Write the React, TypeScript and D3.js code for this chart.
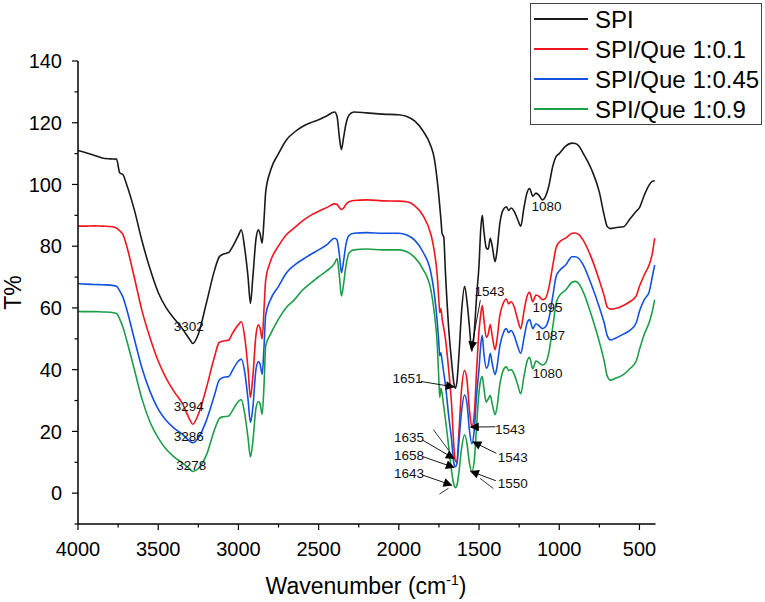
import * as d3 from "d3";

// wavenumber grid (cm-1) shared by all four spectra
const wavenumbers = [
  4000, 3950, 3900, 3850, 3800, 3760, 3740, 3720, 3700, 3650,
  3600, 3550, 3500, 3450, 3400, 3350, 3300, 3285, 3250, 3200,
  3150, 3120, 3100, 3060, 3040, 3000, 2982, 2960, 2940, 2925,
  2910, 2890, 2875, 2865, 2852, 2840, 2830, 2800, 2750, 2700,
  2650, 2600, 2550, 2500, 2450, 2400, 2385, 2370, 2358, 2345,
  2330, 2310, 2280, 2200, 2100, 2000, 1950, 1900, 1850, 1800,
  1780, 1760, 1750, 1745, 1738, 1730, 1720, 1710, 1690, 1670,
  1658, 1648, 1638, 1625, 1610, 1590, 1575, 1560, 1545, 1530,
  1515, 1500, 1490, 1480, 1470, 1455, 1443, 1430, 1418, 1400,
  1390, 1370, 1350, 1330, 1315, 1300, 1280, 1260, 1240, 1220,
  1200, 1185, 1165, 1145, 1125, 1105, 1087, 1065, 1040, 1020,
  1000, 960, 920, 900, 880, 850, 800, 750, 720, 700,
  680, 650, 600, 560, 520, 500, 470, 440, 420, 405,
];

const spi = [
  111, 110.3, 109.5, 108.6, 108.3, 108.2, 103.8, 103.2, 100.5, 92,
  81.5, 72.5, 65, 60, 56.5, 53.3, 49.5, 48.5, 51.5, 61.5,
  72, 76.5, 77.3, 78, 79.5, 83.5, 85.3, 79, 70, 61.5,
  70, 82.5, 85.3, 84, 81, 89, 97.5, 104.5, 110, 114.5,
  117, 118.8, 120, 121, 122.2, 123.5, 122, 115, 111.3, 115,
  119.5, 122.5, 123.5, 123.2, 122.8, 122.6, 122, 120.5, 117.4, 112.4,
  108.7, 101, 96, 93, 89, 84, 83, 72, 54, 42,
  36, 34, 36, 45, 58, 67, 62, 54, 46, 52,
  64, 74, 85, 90, 85, 79.5, 79, 82.6, 80, 75,
  77.6, 87.5, 91.8, 92.8, 91.6, 92.4, 91.2, 88.8, 86.5, 92.5,
  97.5, 98.7, 96.2, 97.2, 96.4, 95, 96, 99.5, 106, 109,
  110, 112.4, 113.4, 113.3, 112.6, 110, 105, 97.5, 90, 86.3,
  85.7, 86, 86.3, 88.8, 91.3, 92.5, 96.5, 99.8, 101, 101.2,
];

const que01 = [
  86.5, 86.5, 86.6, 86.5, 86.4, 85.9, 85, 83.8, 80.7, 70.1,
  58.9, 50.2, 42.8, 37.2, 32.8, 29.1, 23.5, 22.3, 25.5, 34,
  44, 48.8, 49.2, 49.6, 51.5, 54.6, 55.5, 50.2, 40.3, 31,
  37.8, 51.5, 54.5, 53.5, 50, 60, 69, 75.1, 80.1, 83.8,
  86, 88.2, 90, 91.3, 92.5, 93.7, 93.5, 92.5, 91.9, 92.3,
  93.5, 94.4, 94.8, 95, 94.7, 94.6, 94.4, 93.1, 90, 83.8,
  78.8, 70.1, 62, 58.5, 59.8, 56.4, 53.5, 50.2, 40.3, 27.8,
  16, 10.5, 10, 20, 33, 39.7, 36.5, 27, 21.6, 25.4,
  40, 52.7, 57.7, 60.8, 56.4, 50.5, 51.5, 54.6, 51, 46.5,
  49, 57.7, 61.4, 62.9, 61.3, 62, 60.2, 56.4, 53.3, 58.9,
  63.9, 65.1, 62, 64.2, 63.7, 62.7, 63, 66.5, 73.9, 79.4,
  81.3, 82.6, 84.2, 84.3, 83.8, 81.9, 76.3, 68.9, 63.9, 60.2,
  59.6, 59.8, 60.8, 62, 63.9, 67, 70.7, 73.9, 77.6, 82.6,
];

const que045 = [
  67.9, 67.7, 67.6, 67.5, 67.4, 67, 65.5, 63.5, 60.2, 50.2,
  40.3, 32.8, 27.2, 23.5, 21, 19.1, 16.7, 16.3, 17.9, 23.5,
  31.6, 36.6, 37.4, 37.8, 39.5, 42.8, 43.4, 39, 30.3, 22.9,
  27.8, 40.3, 42.6, 41.8, 38.5, 47.7, 57.7, 62.7, 67, 71.4,
  73.9, 75.7, 77.3, 78.8, 80.4, 82.6, 82, 77, 71.4, 75,
  80.5, 83.5, 84.2, 84.4, 84.2, 84.2, 83.6, 81.9, 78.2, 71.4,
  65.1, 55.2, 48, 44.5, 45.5, 42.8, 39, 35.3, 25.4, 16.7,
  10, 8.6, 9.5, 17, 26, 31.8, 29, 20.4, 16, 20.4,
  32, 40.3, 47.7, 51.1, 45.3, 40.5, 41.5, 45.3, 42, 38.4,
  40.3, 47.7, 51.7, 53.3, 52, 52.7, 50.9, 47.7, 45.3, 50.2,
  55.2, 56.2, 53.3, 54.9, 54.2, 53.3, 53.8, 56.5, 63.9, 70.1,
  72, 73.9, 76.6, 76.6, 76.1, 73.9, 67.6, 60.2, 55.2, 50.9,
  49.6, 50.2, 51.5, 52.7, 55.2, 58.9, 62.7, 65.1, 70.1, 73.9,
];

const que09 = [
  58.9, 58.8, 58.8, 58.7, 58.6, 58.2, 56.4, 53.8, 50.2, 40.3,
  30.3, 22.9, 17.9, 14.2, 11.7, 9.8, 7.7, 7, 8, 12.3,
  20.4, 24.1, 24.7, 25, 26.5, 29.7, 30.3, 25.4, 17.9, 11.7,
  16.7, 27.8, 29.7, 29, 25.5, 35.3, 47.7, 51.5, 56.4, 60.2,
  62.7, 65.8, 68, 70.1, 72, 74.5, 76, 70, 63.9, 67.5,
  73.5, 77.8, 78.8, 79.1, 78.8, 78.8, 78.2, 76.3, 72.6, 65.8,
  58.9, 47.7, 36, 31, 34, 32.2, 28, 24.1, 15.4, 6.7,
  3, 1.8, 2.5, 7, 14, 18.9, 16, 9.8, 7, 10.4,
  22, 32.8, 36.6, 37.8, 34.1, 29.5, 30.5, 31.6, 29, 25.4,
  27.2, 35.3, 39.7, 40.9, 39.7, 40, 38.4, 35.3, 32.2, 37.8,
  42.8, 44, 40.3, 42.8, 42.2, 41.5, 42, 45.5, 54, 61.4,
  63.9, 65.8, 68.3, 68.6, 68, 65.1, 57.7, 49, 42.8, 37.8,
  36.6, 37.2, 38.4, 40.3, 42.8, 46.5, 51.5, 55.2, 58.9, 62.7,
];

const seriesNames = ["SPI", "SPI/Que 1:0.1", "SPI/Que 1:0.45", "SPI/Que 1:0.9"];
const seriesValues = [spi, que01, que045, que09];
const seriesColors = ["#1a1a1a", "#f0141e", "#1451e0", "#1c9e48"];

const xTicks = [4000, 3500, 3000, 2500, 2000, 1500, 1000, 500];
const yTicks = [0, 20, 40, 60, 80, 100, 120, 140];

// peak labels: [text, wavenumber, T%]
const peakLabels: [string, number, number][] = [
  ["3302", 3309, 54.2],
  ["3294", 3309, 28.1],
  ["3286", 3309, 18.5],
  ["3278", 3294, 9.2],
  ["1080", 1079, 92.9],
  ["1095", 1073, 60.4],
  ["1087", 1057, 51.1],
  ["1080", 1073, 38.8],
  ["1543", 1435, 65.4],
  ["1651", 1946, 37.4],
  ["1543", 1307, 20.7],
  ["1543", 1290, 11.5],
  ["1550", 1290, 3.3],
  ["1635", 1936, 18],
  ["1658", 1936, 12.3],
  ["1643", 1936, 6.4],
];

// arrows: [fromWn, fromT, toWn, toT]
const arrows: [number, number, number, number][] = [
  [1492, 62.5, 1548, 46.5],
  [1864, 36.2, 1656, 34.4],
  [1398, 21.5, 1552, 21.4],
  [1392, 12.9, 1537, 16.6],
  [1395, 4.0, 1552, 7.1],
  [1849, 17.1, 1656, 11.2],
  [1849, 11.8, 1656, 8.3],
  [1849, 5.8, 1671, 2.6],
];

// plain leader lines without heads
const leaders: [number, number, number, number][] = [
  [1785, 20.6, 1690, 13.9],
  [1494, 4.8, 1411, 1.5],
  [1747, -0.3, 1690, 1.6],
];

const W = 765;
const H = 602;
const font = "'Liberation Sans', Arial, sans-serif";

export default function App() {
  const x = d3.scaleLinear().domain([4000, 400]).range([78, 655.5]);
  const y = d3.scaleLinear().domain([-10, 140]).range([524, 61]);

  const line = d3
    .line<number>()
    .x((_, i) => x(wavenumbers[i]))
    .y((d) => y(d))
    .curve(d3.curveMonotoneX);

  const xMinor = d3.range(4000, 399, -250);
  const yMinor = d3.range(-10, 141, 10);

  return (
    <svg
      width={W}
      height={H}
      style={{ position: "fixed", left: 0, top: 0, background: "#fff" }}
      fontFamily={font}
    >
      <defs>
        <marker
          id="head"
          viewBox="0 0 10 10"
          refX="9"
          refY="5"
          markerWidth="11"
          markerHeight="9"
          markerUnits="userSpaceOnUse"
          orient="auto"
        >
          <path d="M0,0 L10,5 L0,10 z" fill="#000" />
        </marker>
      </defs>

      {/* spectra */}
      {seriesValues.map((vals, i) => (
        <path
          key={seriesNames[i]}
          d={line(vals) ?? ""}
          fill="none"
          stroke={seriesColors[i]}
          strokeWidth={1.6}
          strokeLinejoin="round"
        />
      ))}

      {/* y axis */}
      <line x1={x(4000)} x2={x(4000)} y1={y(-10)} y2={y(140)} stroke="#000" strokeWidth={1.5} />
      {yMinor.map((v) => (
        <line
          key={"ym" + v}
          x1={x(4000)}
          x2={x(4000) - (v % 20 === 0 ? 6 : 3.5)}
          y1={y(v)}
          y2={y(v)}
          stroke="#000"
          strokeWidth={1.2}
        />
      ))}
      {yTicks.map((v) => (
        <text
          key={"yt" + v}
          x={62}
          y={y(v)}
          dy="0.36em"
          textAnchor="end"
          fontSize={20}
          fill="#000"
        >
          {v}
        </text>
      ))}

      {/* x axis */}
      <line x1={x(4000)} x2={x(400)} y1={y(-10)} y2={y(-10)} stroke="#000" strokeWidth={1.5} />
      {xMinor.map((v) => (
        <line
          key={"xm" + v}
          x1={x(v)}
          x2={x(v)}
          y1={y(-10)}
          y2={y(-10) + (v % 500 === 0 ? 6 : 3.5)}
          stroke="#000"
          strokeWidth={1.2}
        />
      ))}
      {xTicks.map((v) => (
        <text
          key={"xt" + v}
          x={x(v)}
          y={556}
          textAnchor="middle"
          fontSize={20}
          fill="#000"
        >
          {v}
        </text>
      ))}

      {/* axis titles */}
      <text
        transform={`translate(21,${y(65)}) rotate(-90)`}
        textAnchor="middle"
        fontSize={23}
        fill="#000"
      >
        T%
      </text>
      <text x={366} y={594} textAnchor="middle" fontSize={23} fill="#000">
        Wavenumber (cm
        <tspan dy={-9} fontSize={14}>-1</tspan>
        <tspan dy={9}>)</tspan>
      </text>

      {/* annotations */}
      {leaders.map((a, i) => (
        <line
          key={"ld" + i}
          x1={x(a[0])}
          y1={y(a[1])}
          x2={x(a[2])}
          y2={y(a[3])}
          stroke="#000"
          strokeWidth={0.8}
        />
      ))}
      {arrows.map((a, i) => (
        <line
          key={"ar" + i}
          x1={x(a[0])}
          y1={y(a[1])}
          x2={x(a[2])}
          y2={y(a[3])}
          stroke="#000"
          strokeWidth={0.9}
          markerEnd="url(#head)"
        />
      ))}
      {peakLabels.map(([t, wn, v], i) => (
        <text
          key={"pl" + i}
          x={x(wn)}
          y={y(v)}
          dy="0.36em"
          textAnchor="middle"
          fontSize={13.5}
          fill="#111"
        >
          {t}
        </text>
      ))}

      {/* legend */}
      <rect x={530.5} y={3.5} width={231} height={121} fill="#fff" stroke="#444" strokeWidth={1} />
      {seriesNames.map((name, i) => (
        <g key={"lg" + i} transform={`translate(0,${19 + i * 30})`}>
          <line x1={534} x2={588} y1={0} y2={0} stroke={seriesColors[i]} strokeWidth={2} />
          <text x={595} y={0} dy="0.36em" fontSize={24} fill="#000">
            {name}
          </text>
        </g>
      ))}
    </svg>
  );
}
